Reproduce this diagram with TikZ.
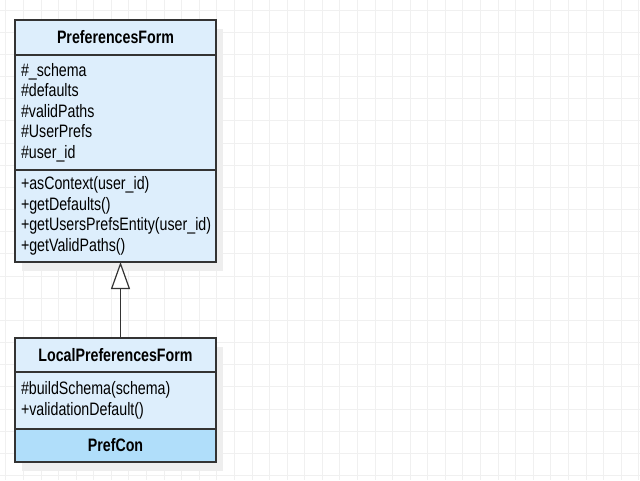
\documentclass[tikz,border=0pt]{standalone}
\usepackage{fontspec}
\setmainfont{Liberation Sans}[FakeStretch=0.79]
\usetikzlibrary{positioning,arrows.meta,shadows}
\definecolor{classfill}{RGB}{221,238,252}
\definecolor{confill}{RGB}{176,222,250}
\definecolor{classline}{RGB}{51,51,51}
\definecolor{gridgray}{RGB}{240,240,240}
\definecolor{shadowgray}{RGB}{238,238,238}

\begin{document}
\begin{tikzpicture}[x=1pt, y=-1pt, font=\fontsize{18pt}{20.5pt}\selectfont]
\tikzset{gridline/.style ={draw=gridgray, line width=1pt}}
\tikzset{compart/.style ={draw=classline, line width=1.2pt, fill=classfill,
  minimum width=201pt, outer sep=0pt, inner xsep=6pt,
  drop shadow={shadow xshift=7pt, shadow yshift=-9pt, fill=shadowgray, opacity=1}}}
\tikzset{classhead/.style ={compart, font=\fontsize{18pt}{20.5pt}\selectfont\bfseries}}
\tikzset{members/.style ={compart, text width=189pt, align=left}}
\tikzset{inherit/.style ={draw=classline, line width=1.2pt,
  -{Triangle[open, length=27pt, width=19pt, fill=white]}}}
\useasboundingbox (0,0) rectangle (640,480);
\fill[white] (0,0) rectangle (640,480);
% grid
\foreach \gx in {0,...,36}
  \draw[gridline] ({5.9+17.58*\gx},0) -- ++(0,480);
\foreach \gy in {0,...,21}
  \draw[gridline] (0,{10+22.17*\gy}) -- ++(640,0);
% PreferencesForm
\node[classhead, minimum height=35pt, anchor=north west] (pfHead) at (15,20) {PreferencesForm};
\node[members, minimum height=115pt, below=0pt of pfHead] (pfAttrs)
  {\#\_schema\\\#defaults\\\#validPaths\\\#UserPrefs\\\#user\_id};
\node[members, minimum height=92pt, below=0pt of pfAttrs] (pfOps)
  {+asContext(user\_id)\\+getDefaults()\\+getUsersPrefsEntity(user\_id)\\+getValidPaths()};
% LocalPreferencesForm
\node[classhead, minimum height=34pt, below=76pt of pfOps] (lpfHead) {LocalPreferencesForm};
\node[members, minimum height=57pt, below=0pt of lpfHead] (lpfOps)
  {\#buildSchema(schema)\\+validationDefault()};
\node[classhead, fill=confill, minimum height=33pt, below=0pt of lpfOps] (lpfCon) {PrefCon};
\draw[inherit] ([xshift=5pt]lpfHead.north) -- ([xshift=5pt]pfOps.south);
\end{tikzpicture}
\end{document}
